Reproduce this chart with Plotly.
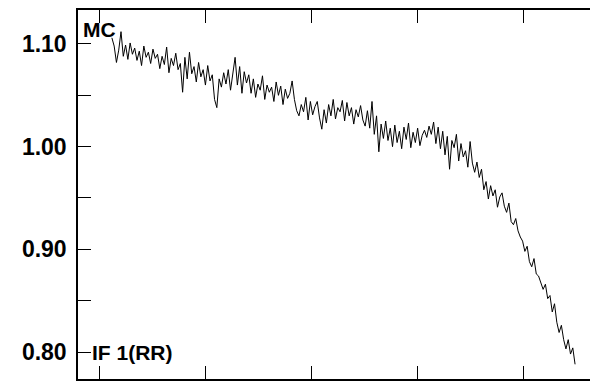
import numpy as np
import plotly.graph_objects as go

# ratio values (left to right)
ratio = [
    1.106, 1.098, 1.082, 1.094, 1.112, 1.088, 1.099, 1.085, 1.101, 1.090,
    1.096, 1.084, 1.093, 1.079, 1.098, 1.087, 1.092, 1.081, 1.095, 1.086,
    1.090, 1.076, 1.088, 1.080, 1.097, 1.072, 1.086, 1.079, 1.091, 1.075,
    1.081, 1.053, 1.087, 1.066, 1.092, 1.071, 1.078, 1.063, 1.082, 1.068,
    1.075, 1.060, 1.079, 1.064, 1.070, 1.046, 1.038, 1.066, 1.058, 1.072,
    1.061, 1.075, 1.055, 1.069, 1.087, 1.060, 1.078, 1.052, 1.073, 1.062,
    1.070, 1.052, 1.066, 1.048, 1.061, 1.055, 1.069, 1.046, 1.060, 1.053,
    1.058, 1.044, 1.063, 1.050, 1.059, 1.041, 1.056, 1.047, 1.052, 1.064,
    1.046, 1.035, 1.030, 1.041, 1.034, 1.048, 1.026, 1.044, 1.031, 1.039,
    1.044, 1.028, 1.017, 1.036, 1.023, 1.041, 1.030, 1.046, 1.027, 1.038,
    1.034, 1.045, 1.025, 1.043, 1.030, 1.038, 1.022, 1.036, 1.029, 1.040,
    1.026, 1.020, 1.035, 1.018, 1.044, 1.012, 1.030, 0.995, 1.022, 1.008,
    1.025, 1.006, 1.018, 1.000, 1.021, 1.004, 1.015, 0.998, 1.019, 1.007,
    1.023, 0.999, 1.014, 1.004, 1.018, 1.001, 1.011, 1.016, 1.009, 1.020,
    1.012, 1.024, 1.003, 1.019, 0.998, 1.015, 0.992, 1.010, 0.978, 1.006,
    0.999, 1.012, 0.986, 1.003, 0.990, 0.996, 0.980, 1.005, 0.984, 0.975,
    0.985, 0.970, 0.978, 0.958, 0.966, 0.949, 0.962, 0.952, 0.958, 0.941,
    0.951, 0.955, 0.942, 0.936, 0.945, 0.927, 0.924, 0.930, 0.918, 0.912,
    0.908, 0.898, 0.903, 0.888, 0.883, 0.891, 0.876, 0.874, 0.868, 0.861,
    0.866, 0.852, 0.855, 0.839, 0.847, 0.829, 0.819, 0.826, 0.812, 0.803,
    0.812, 0.798, 0.804, 0.788,
]
x_start = 0.113
x_end = 4.487
x_vals = np.linspace(x_start, x_end, len(ratio))

y_tickvals = [0.80, 0.90, 1.00, 1.10]
y_ticktext = ["0.80", "0.90", "1.00", "1.10"]
x_tickvals = [0, 1, 2, 3, 4]
y_range = [0.7737, 1.1331]
x_range = [-0.207, 4.798]

label_top = "MC"
label_bottom = "IF 1(RR)"

font_family = "Liberation Sans, Arial, sans-serif"

fig = go.Figure()
fig.add_trace(go.Scatter(x=x_vals, y=ratio, mode="lines",
                         line=dict(color="black", width=1), showlegend=False))

fig.update_layout(
    width=602, height=385, autosize=False,
    margin=dict(l=70, r=0, t=2, b=14),
    paper_bgcolor="white", plot_bgcolor="white",
    font=dict(family=font_family, color="black"),
    xaxis=dict(range=x_range, tickvals=x_tickvals, showticklabels=False,
               ticks="inside", ticklen=13, tickwidth=1, tickcolor="black",
               showline=True, linecolor="black", linewidth=1.5, mirror="ticks",
               showgrid=False, zeroline=False),
    yaxis=dict(range=y_range, tickvals=y_tickvals, ticktext=y_ticktext,
               ticks="inside", ticklen=13, tickwidth=1, tickcolor="black",
               tickfont=dict(size=23, family=font_family, weight="bold"),
               ticklabelstandoff=5,
               minor=dict(dtick=0.05, tick0=0.75, ticks="inside", ticklen=13,
                          tickwidth=1, tickcolor="black"),
               showline=True, linecolor="black", linewidth=1.5, mirror="ticks",
               showgrid=False, zeroline=False),
    annotations=[
        dict(text="<b>%s</b>" % label_top, xref="paper", yref="paper",
             x=0.0056, y=0.9485, xanchor="left", yanchor="middle",
             showarrow=False, font=dict(size=21, family=font_family, color="black")),
        dict(text="<b>%s</b>" % label_bottom, xref="paper", yref="y",
             x=0.0226, y=0.80, xanchor="left", yanchor="middle",
             showarrow=False, font=dict(size=21, family=font_family, color="black")),
    ],
)

fig.write_html("out.html")
